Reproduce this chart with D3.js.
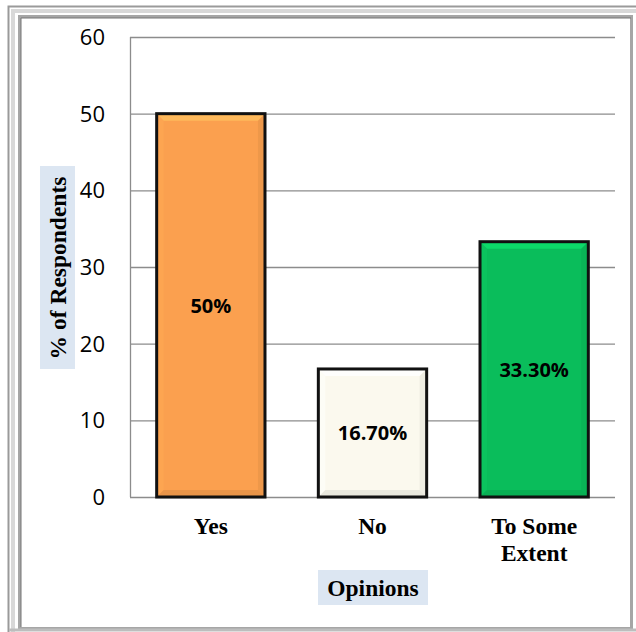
<!DOCTYPE html>
<html><head><meta charset="utf-8">
<script src="https://cdn.jsdelivr.net/npm/d3@7/dist/d3.min.js"></script>
<style>body{margin:0;background:#fff}</style>
</head><body>
<script>
const categories = ["Yes", "No", "To Some Extent"];
const values = [50, 16.7, 33.3];
const dataLabels = ["50%", "16.70%", "33.30%"];
const yTicks = [0, 10, 20, 30, 40, 50, 60];
const barColors = ["#FBA04F", "#FBF9EE", "#0ABD5B"];

const W = 636, H = 632;
const svg = d3.select("body").append("svg").attr("width", W).attr("height", H);

// Frame (double, beveled gray)
svg.append("rect").attr("x", 8.5).attr("y", 6.5).attr("width", 640).attr("height", 640)
  .attr("fill", "none").attr("stroke", "#9a9a9a").attr("stroke-width", 2);
svg.append("rect").attr("x", 13).attr("y", 11).attr("width", 640).attr("height", 640)
  .attr("fill", "none").attr("stroke", "#d8d8d8").attr("stroke-width", 4);
svg.append("rect").attr("x", 19.5).attr("y", 16.5).attr("width", 612).attr("height", 612)
  .attr("fill", "#fff").attr("stroke", "#a6a6a6").attr("stroke-width", 3);
svg.append("line").attr("x1", 21).attr("x2", 21).attr("y1", 18).attr("y2", 627).attr("stroke", "#777").attr("stroke-width", 1);
svg.append("line").attr("x1", 21).attr("x2", 631).attr("y1", 18).attr("y2", 18).attr("stroke", "#777").attr("stroke-width", 1);
svg.append("rect").attr("x", 9).attr("y", 628.5).attr("width", 640).attr("height", 3).attr("fill", "#bdbdbd");

const m = {l: 130, r: 615, t: 37, b: 497};
const x = d3.scaleBand().domain(categories).range([m.l, m.r]).paddingInner(0.33).paddingOuter(0.165);
const y = d3.scaleLinear().domain([0, 60]).range([m.b, m.t]);

// gridlines
svg.append("g").selectAll("line").data(yTicks.filter(d => d > 0)).join("line")
  .attr("x1", m.l).attr("x2", m.r).attr("y1", d => y(d) + 0.5).attr("y2", d => y(d) + 0.5)
  .attr("stroke", "#8c8c8c").attr("stroke-width", 1.3);
// axes lines
svg.append("line").attr("x1", m.l + 0.5).attr("x2", m.l + 0.5).attr("y1", m.t).attr("y2", m.b)
  .attr("stroke", "#8c8c8c").attr("stroke-width", 1.3);
svg.append("line").attr("x1", m.l).attr("x2", m.r).attr("y1", m.b + 0.5).attr("y2", m.b + 0.5)
  .attr("stroke", "#8c8c8c").attr("stroke-width", 1.3);

// y tick labels
svg.append("g").selectAll("text").data(yTicks).join("text")
  .attr("x", 105).attr("y", d => y(d)).attr("dy", "0.36em").attr("text-anchor", "end")
  .attr("font-family", "Open Sans, sans-serif").attr("font-size", 22).attr("fill", "#000")
  .text(d => d);

// bars with bevel
const bars = svg.append("g").selectAll("g").data(categories).join("g");
bars.each(function(c, i) {
  const g = d3.select(this);
  const x0 = x(c), w = x.bandwidth(), y0 = y(values[i]), h = y(0) - y0;
  const col = d3.color(barColors[i]);
  g.append("rect").attr("x", x0).attr("y", y0).attr("width", w).attr("height", h).attr("fill", col);
  const b = 7;
  g.append("path").attr("d", `M${x0},${y0}L${x0+w},${y0}L${x0+w-b},${y0+b}L${x0+b},${y0+b}Z`)
    .attr("fill", col.brighter(0.5)).attr("opacity", 0.8);
  g.append("path").attr("d", `M${x0},${y0}L${x0+b},${y0+b}L${x0+b},${y0+h-b}L${x0},${y0+h}Z`)
    .attr("fill", col.brighter(0.15)).attr("opacity", 0.6);
  g.append("path").attr("d", `M${x0+w},${y0}L${x0+w-b},${y0+b}L${x0+w-b},${y0+h-b}L${x0+w},${y0+h}Z`)
    .attr("fill", col.darker(0.25)).attr("opacity", 0.6);
  g.append("path").attr("d", `M${x0},${y0+h}L${x0+w},${y0+h}L${x0+w-b},${y0+h-b}L${x0+b},${y0+h-b}Z`)
    .attr("fill", col.darker(0.35)).attr("opacity", 0.6);
  g.append("rect").attr("x", x0).attr("y", y0).attr("width", w).attr("height", h)
    .attr("fill", "none").attr("stroke", "#111").attr("stroke-width", 3);
  g.append("text").attr("x", x0 + w / 2).attr("y", y0 + h / 2).attr("dy", "0.36em")
    .attr("text-anchor", "middle").attr("font-family", "Open Sans, sans-serif")
    .attr("font-weight", "bold").attr("font-size", 20).attr("fill", "#000").text(dataLabels[i]);
});

// x labels
const serif = "Liberation Serif, Times New Roman, serif";
const xl = svg.append("g").selectAll("text").data(categories).join("text")
  .attr("x", d => x(d) + x.bandwidth() / 2).attr("y", 534).attr("text-anchor", "middle")
  .attr("font-family", serif).attr("font-weight", "bold")
  .attr("font-size", 23.5).attr("fill", "#000");
xl.each(function(d) {
  const t = d3.select(this);
  const parts = d === "To Some Extent" ? ["To Some", "Extent"] : [d];
  parts.forEach((p, k) => t.append("tspan").attr("x", x(d) + x.bandwidth() / 2).attr("dy", k ? 27 : 0).text(p));
});

// x title
svg.append("rect").attr("x", 318).attr("y", 570).attr("width", 110).attr("height", 35).attr("fill", "#DCE6F2");
svg.append("text").attr("x", 373).attr("y", 596).attr("text-anchor", "middle")
  .attr("font-family", serif).attr("font-weight", "bold")
  .attr("font-size", 23.5).text("Opinions");

// y title
svg.append("rect").attr("x", 40).attr("y", 166).attr("width", 35).attr("height", 203).attr("fill", "#DCE6F2");
svg.append("text").attr("transform", "translate(66,268) rotate(-90)").attr("text-anchor", "middle")
  .attr("font-family", serif).attr("font-weight", "bold")
  .attr("font-size", 23.5).text("% of Respondents");
</script>
</body></html>
